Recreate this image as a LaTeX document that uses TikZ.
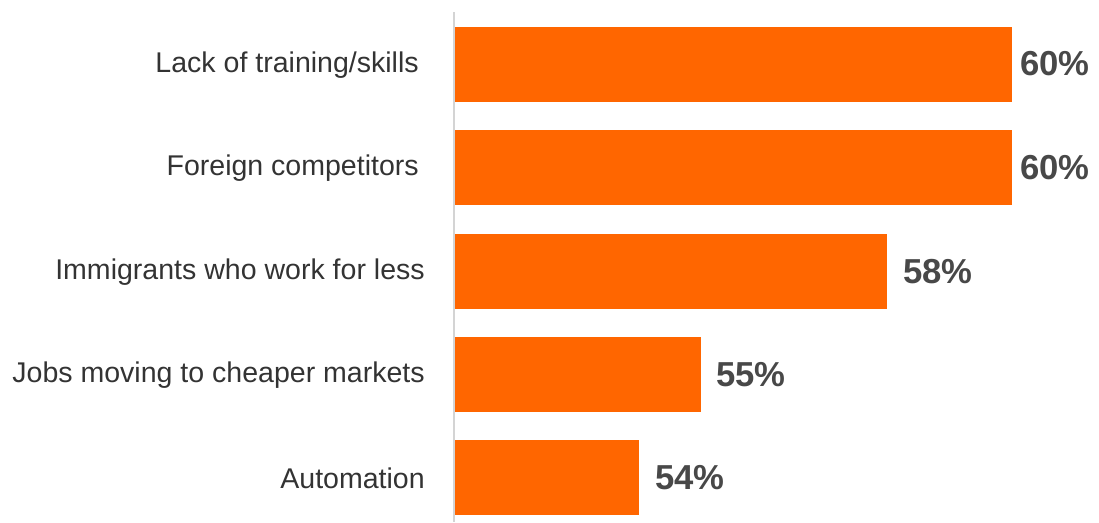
\documentclass[tikz,border=0pt]{standalone}
\usepackage{fontspec}
\setmainfont{Liberation Sans}
\usepackage{xcolor}
\usepackage{tikz}

\definecolor{barorange}{RGB}{255,102,0}
\definecolor{labelgrey}{RGB}{51,51,51}
\definecolor{pctgrey}{RGB}{72,72,72}
\definecolor{axisgrey}{RGB}{212,212,212}

\tikzset{
  bar/.style={fill=barorange, draw=none},
  catlabel/.style={anchor=east, text=labelgrey, font=\fontsize{21.4}{24}\selectfont, inner sep=0pt},
  pctlabel/.style={anchor=west, text=pctgrey, font=\fontsize{26}{30}\selectfont\bfseries, inner sep=0pt}
}

\begin{document}
\begin{tikzpicture}[x=0.75pt,y=0.75pt,yscale=-1,xscale=1]
\useasboundingbox (0,0) rectangle (1099,522);

%Straight Lines: axis
\draw [axisgrey, line width=1.5pt] (454,12) -- (454,522) ;

%Shape: Rectangle bars
\fill [bar] (455,27) rectangle (1012,102) ;
\fill [bar] (455,130) rectangle (1012,205) ;
\fill [bar] (455,234) rectangle (887,309) ;
\fill [bar] (455,337) rectangle (701,412) ;
\fill [bar] (455,440) rectangle (639,515) ;

% Text Node: categories
\node [catlabel] (lack) at (419,65) {Lack of training/skills};
\node [catlabel] (foreign) at (419,168) {Foreign competitors};
\node [catlabel] (immig) at (425,272) {Immigrants who work for less};
\node [catlabel] (jobs) at (425,375) {Jobs moving to cheaper markets};
\node [catlabel] (auto) at (425,478) {Automation};

% Text Node: values
\node [pctlabel] (vlack) at (1020,64) {60\%};
\node [pctlabel] (vforeign) at (1020,168) {60\%};
\node [pctlabel] (vimmig) at (903,272) {58\%};
\node [pctlabel] (vjobs) at (716,375) {55\%};
\node [pctlabel] (vauto) at (655,478) {54\%};

\end{tikzpicture}
\end{document}
